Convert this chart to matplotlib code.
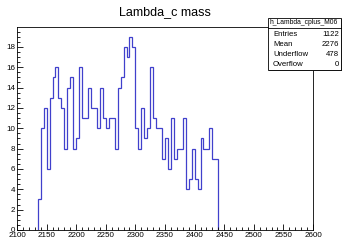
#===============================================================================
import numpy as np
import matplotlib.pyplot as plt
from matplotlib.patches import Rectangle
from matplotlib.ticker import MultipleLocator

#===============================================================================
# histogram h_Lambda_cplus_M06: 100 bins of 5 MeV over 2100-2600
x_min, x_max = 2100, 2600
bin_width = 5
first_bin = 2135
counts = [3, 10, 12, 6, 13, 15, 16, 13, 12, 8,
          14, 15, 8, 9, 16, 11, 11, 14, 12, 12,
          10, 14, 11, 10, 11, 11, 8, 14, 15, 18,
          17, 19, 18, 10, 8, 12, 9, 10, 16, 11,
          10, 10, 7, 9, 6, 11, 7, 8, 8, 11,
          4, 5, 8, 5, 4, 9, 8, 8, 10, 7,
          7]

hist_name = "h_Lambda_cplus_M06"
title = "Lambda_c mass"
stat_labels = ["Entries", "Mean", "Underflow", "Overflow"]
stat_values = ["1122", "2276", "478", "0"]

#===============================================================================
plt.rcParams['font.family'] = ['Liberation Sans', 'DejaVu Sans']

W, H = 342, 241
fig = plt.figure(figsize=(W / 100, H / 100), dpi=100)
ax = fig.add_axes([17 / W, 1 - 230 / H, 296 / W, 203 / H])

edges = first_bin + bin_width * np.arange(len(counts) + 1)
ax.stairs(counts, edges, color="#4040cc", linewidth=0.9, baseline=0)

ax.set_xlim(x_min, x_max)
ax.set_ylim(0, max(counts) * 1.05)

ax.xaxis.set_major_locator(MultipleLocator(50))
ax.xaxis.set_minor_locator(MultipleLocator(10))
ax.yaxis.set_major_locator(MultipleLocator(2))
ax.yaxis.set_minor_locator(MultipleLocator(0.5))
ax.tick_params(which="both", direction="in", top=False, right=False,
               labelsize=5.8, width=0.6, colors="black")
ax.tick_params(axis="x", which="major", length=4.5, pad=1.2)
ax.tick_params(axis="x", which="minor", length=2.2)
ax.tick_params(axis="y", which="major", length=4.5, pad=1.5)
ax.tick_params(axis="y", which="minor", length=2.2)
for spine in ax.spines.values():
    spine.set_linewidth(0.6)

fig.text(165 / W, 1 - 12 / H, title, ha="center", va="center", fontsize=9)

#===============================================================================
# stats box
bx0, bx1 = 268 / W, 341 / W
by_top, by_bot, by_head = 1 - 18 / H, 1 - 70 / H, 1 - 28 / H
fig.patches.append(Rectangle((bx0 + 1 / W, by_bot - 1 / H), bx1 - bx0, by_top - by_bot,
                             transform=fig.transFigure, facecolor="black",
                             edgecolor="none", zorder=5))
fig.patches.append(Rectangle((bx0, by_bot), bx1 - bx0, by_top - by_bot,
                             transform=fig.transFigure, facecolor="white",
                             edgecolor="black", linewidth=0.6, zorder=6))
fig.lines.append(plt.Line2D([bx0, bx1], [by_head, by_head], transform=fig.transFigure,
                            color="black", linewidth=0.6, zorder=7))
fig.text(270 / W, 1 - 23 / H, hist_name, ha="left", va="center", fontsize=4.9, zorder=8)

for i, (label, value) in enumerate(zip(stat_labels, stat_values)):
    y = 1 - (35 + 10 * i) / H
    fig.text(273 / W, y, label, ha="left", va="center", fontsize=5.6, zorder=8)
    fig.text(339 / W, y, value, ha="right", va="center", fontsize=5.6, zorder=8)

fig.savefig("out.png", dpi=100)
